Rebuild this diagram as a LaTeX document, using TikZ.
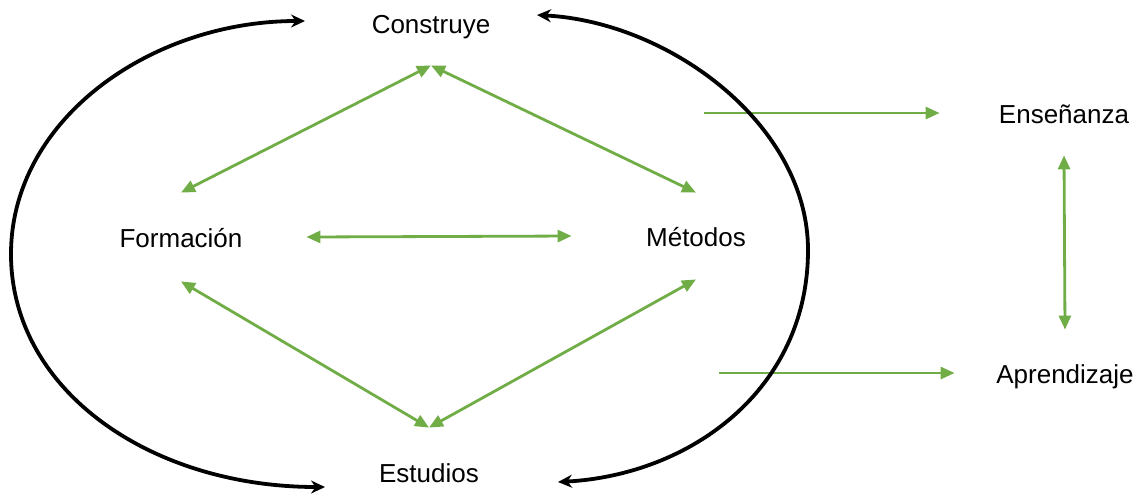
\documentclass[tikz,border=0pt]{standalone}
\usepackage{fontspec}
\setmainfont{Liberation Sans}
\usetikzlibrary{arrows.meta}
\definecolor{vgreen}{RGB}{112,173,71}
\begin{document}
\begin{tikzpicture}[x=0.5pt,y=-0.5pt,
  lbl/.style={inner sep=0pt,text height=10pt,text depth=0pt,font=\fontsize{13}{15}\selectfont},
  garrow/.style={draw=vgreen,line width=1.4pt,{Triangle[length=7pt,width=6pt]}-{Triangle[length=7pt,width=6pt]}},
  gone/.style={draw=vgreen,line width=1.4pt,-{Triangle[length=7pt,width=6pt]}},
  barrow/.style={draw=black,line width=1.9pt,{Stealth[length=7pt,width=6.5pt]}-{Stealth[length=7pt,width=6.5pt]}}]
\useasboundingbox (0,0) rectangle (1141,495);
\node[lbl,minimum height=42pt] (con) at (431,23) {Construye};
\node[lbl,minimum height=44pt,minimum width=125pt] (for) at (181,237) {Formación};
\node[lbl,minimum height=43pt,minimum width=124pt] (met) at (696,236) {Métodos};
\node[lbl,minimum height=44pt] (est) at (429,472) {Estudios};
\node[lbl,minimum height=42pt,minimum width=124pt] (ens) at (1064,113) {Enseñanza};
\node[lbl,minimum height=43pt,minimum width=110pt] (apr) at (1065,373) {Aprendizaje};
\coordinate (s1) at (704,113);
\coordinate (s2) at (719,373);
\coordinate (L1) at (305,21);
\coordinate (L2) at (325,487);
\coordinate (R1) at (537,15);
\coordinate (R2) at (558,482);
% green connectors
\draw[garrow] (con.south) -- (for.north);
\draw[garrow] (con.south) -- (met.north);
\draw[garrow] (for.east) -- (met.west);
\draw[garrow] (for.south) -- (est.north);
\draw[garrow] (met.south) -- (est.north);
\draw[garrow] (ens.south) -- (apr.north);
\draw[gone] (s1) -- (ens.west);
\draw[gone] (s2) -- (apr.west);
% black curves
\draw[barrow] (L1) .. controls (150,21) and (11,120) .. (11,254) .. controls (11,390) and (150,487) .. (L2);
\draw[barrow] (R1) .. controls (670,22) and (808,125) .. (808,250) .. controls (808,390) and (690,475) .. (R2);
\end{tikzpicture}
\end{document}
